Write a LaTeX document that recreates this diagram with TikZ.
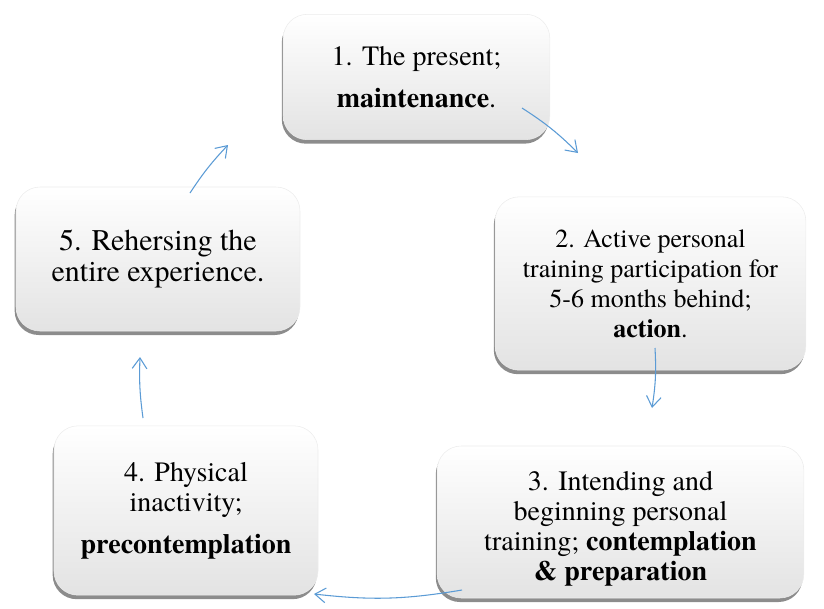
\documentclass[tikz,border=0pt]{standalone}
\usepackage{fontspec}
\setmainfont{texgyretermes}[Extension=.otf, UprightFont=*-regular, BoldFont=*-bold,
  ItalicFont=*-italic, BoldItalicFont=*-bolditalic]
\usetikzlibrary{arrows.meta,shadows}

\tikzset{
  stagebox/.style={rounded corners=18pt, top color=white, bottom color=gray!22,
    draw=gray!15, align=center, inner sep=0pt,
    drop shadow={shadow xshift=-1pt, shadow yshift=-3pt, opacity=0.6, fill=black!75},
    font=\fontsize{21}{22.5}\selectfont},
  cyclearrow/.style={draw={rgb,255:red,91;green,155;blue,213}, line width=0.8pt,
    -{Straight Barb[length=8pt,width=11pt]}}
}

\begin{document}
\begin{tikzpicture}[x=0.75pt,y=-0.75pt]
      \useasboundingbox (0,0) rectangle (824,608);
      % stages of change
      \node[stagebox, minimum width=200pt, minimum height=94pt] (present) at (416.5,77)
            {1. The present;\\[9pt] \textbf{maintenance}.};
      \node[stagebox, minimum width=233pt, minimum height=130pt,
            font=\fontsize{19.5}{22.5}\selectfont] (action) at (650.5,283.5)
            {2. Active personal\\ training participation for\\ 5-6 months behind;\\ \textbf{action}.};
      \node[stagebox, minimum width=275pt, minimum height=114pt] (intend) at (620.5,522)
            {\rule{0pt}{25pt}3. Intending and\\ beginning personal\\ training; \textbf{contemplation}\\ \textbf{\& preparation}};
      \node[stagebox, minimum width=198pt, minimum height=127pt] (inactive) at (186,510.5)
            {4. Physical\\ inactivity;\\[9pt] \textbf{precontemplation}};
      \node[stagebox, minimum width=213pt, minimum height=108pt,
            font=\fontsize{22.5}{23.5}\selectfont] (rehearse) at (158,259)
            {5. Rehersing the\\ entire experience.};
      % arrow ends
      \coordinate (a1s) at (522,108);  \coordinate (a1e) at (578,153);
      \coordinate (a2s) at (655,348);  \coordinate (a2e) at (652,408);
      \coordinate (a3s) at (462,590);  \coordinate (a3e) at (314,594);
      \coordinate (a4s) at (143,418);  \coordinate (a4e) at (140,357);
      \coordinate (a5s) at (190,193);  \coordinate (a5e) at (228,145);
      \draw[cyclearrow] (a1s) to[bend left=6] (a1e);
      \draw[cyclearrow] (a2s) to[bend left=6] (a2e);
      \draw[cyclearrow] (a3s) to[bend left=8] (a3e);
      \draw[cyclearrow] (a4s) to[bend left=5] (a4e);
      \draw[cyclearrow] (a5s) to[bend left=5] (a5e);
\end{tikzpicture}
\end{document}
